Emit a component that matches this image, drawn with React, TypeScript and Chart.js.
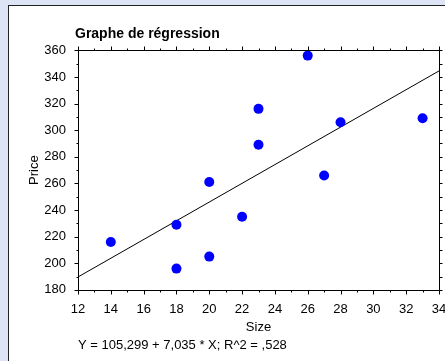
import React, { useEffect, useRef } from 'react';
import { Chart, registerables } from 'chart.js';

Chart.register(...registerables);

// ---- data ----
const sizes = [14, 18, 18, 20, 20, 22, 23, 23, 26, 27, 28, 33];
const prices = [216, 229, 196, 261, 205, 235, 289, 316, 356, 266, 306, 309];
const fitX = [12, 34];
const fitY = [189.7, 344.5];

const xRange = [12, 34];
const xSteps = [2, 1]; // major, minor
const yRange = [180, 360];
const ySteps = [20, 10];

const chartTitle = 'Graphe de régression';
const xTitle = 'Size';
const yTitle = 'Price';
const equation = 'Y = 105,299 + 7,035 * X; R^2 = ,528';

const FONT = "'Liberation Sans', Arial, sans-serif";

const shiftTitle = {
  id: 'shiftTitle',
  afterLayout(chart: any) {
    const t = chart.titleBlock;
    if (t) {
      t.left -= 3;
      t.right -= 3;
    }
  },
};

const frameTicks = {
  id: 'frameTicks',
  afterDraw(chart: any) {
    const { ctx, chartArea: a, scales } = chart;
    const x = scales.x;
    const y = scales.y;
    const L = Math.round(a.left) + 0.5;
    const R = Math.round(a.right) + 0.5;
    const T = Math.round(a.top) + 0.5;
    const B = Math.round(a.bottom) + 0.5;
    ctx.save();
    ctx.strokeStyle = '#000';
    ctx.lineWidth = 1;
    ctx.beginPath();
    ctx.rect(L, T, R - L, B - T);
    for (let v = xRange[0]; v <= xRange[1] + 1e-9; v += xSteps[1]) {
      const len = Math.abs((v - xRange[0]) % xSteps[0]) < 1e-9 ? 4 : 2;
      const px = Math.round(x.getPixelForValue(v)) + 0.5;
      ctx.moveTo(px, B);
      ctx.lineTo(px, B + len);
      ctx.moveTo(px, T);
      ctx.lineTo(px, T - len);
    }
    for (let v = yRange[0]; v <= yRange[1] + 1e-9; v += ySteps[1]) {
      const len = Math.abs((v - yRange[0]) % ySteps[0]) < 1e-9 ? 4 : 2;
      const py = Math.round(y.getPixelForValue(v)) + 0.5;
      ctx.moveTo(L, py);
      ctx.lineTo(L - len, py);
      ctx.moveTo(R, py);
      ctx.lineTo(R + 3, py);
    }
    ctx.stroke();
    ctx.restore();
  },
};

export default function App() {
  const ref = useRef<HTMLCanvasElement>(null);

  useEffect(() => {
    if (!ref.current) return;
    const chart = new Chart(ref.current, {
      type: 'scatter',
      data: {
        datasets: [
          {
            label: 'data',
            data: sizes.map((s, i) => ({ x: s, y: prices[i] })),
            backgroundColor: '#0000ff',
            borderColor: '#0000ff',
            pointRadius: 5,
            pointBorderWidth: 0,
            showLine: false,
            order: 0,
          },
          {
            label: 'fit',
            data: fitX.map((s, i) => ({ x: s, y: fitY[i] })),
            borderColor: '#000',
            backgroundColor: '#000',
            borderWidth: 1,
            pointRadius: 0,
            showLine: true,
            order: 1,
          },
        ],
      },
      options: {
        responsive: false,
        animation: false,
        devicePixelRatio: 1,
        layout: { padding: { left: 0, right: 6, top: 0, bottom: 0 } },
        plugins: {
          legend: { display: false },
          tooltip: { enabled: false },
          title: {
            display: true,
            text: chartTitle,
            align: 'start',
            fullSize: false,
            color: '#000',
            font: { family: FONT, size: 14, weight: 'bold' },
            padding: { top: 25.5, bottom: 8 },
          },
          subtitle: {
            display: true,
            text: equation,
            position: 'bottom',
            align: 'start',
            fullSize: false,
            color: '#000',
            font: { family: FONT, size: 13, weight: 'normal' },
            padding: { top: 0, bottom: 8 },
          },
        },
        scales: {
          x: {
            type: 'linear',
            position: 'bottom',
            min: xRange[0],
            max: xRange[1],
            grid: { display: false, drawTicks: false },
            border: { display: false },
            ticks: {
              stepSize: xSteps[0],
              color: '#000',
              font: { family: FONT, size: 13 },
              padding: 12,
              maxRotation: 0,
            },
            title: {
              display: true,
              text: xTitle,
              color: '#000',
              font: { family: FONT, size: 13 },
              padding: { top: 0, bottom: 2.5 },
            },
            afterFit(scale: any) {
              scale.height = 47.5;
              scale.paddingLeft = 0;
              scale.paddingRight = 0;
            },
          },
          y: {
            type: 'linear',
            position: 'left',
            min: yRange[0],
            max: yRange[1],
            grid: { display: false, drawTicks: false },
            border: { display: false },
            ticks: {
              stepSize: ySteps[0],
              color: '#000',
              font: { family: FONT, size: 13 },
              padding: 12,
            },
            title: {
              display: true,
              text: yTitle,
              color: '#000',
              font: { family: FONT, size: 13 },
              padding: { top: 27, bottom: 0 },
            },
            afterFit(scale: any) {
              scale.width = 78;
            },
          },
        },
      },
      plugins: [frameTicks, shiftTitle],
    } as any);
    return () => chart.destroy();
  }, []);

  return (
    <div
      style={{
        position: 'fixed',
        left: 0,
        top: 0,
        width: 445,
        height: 361,
        overflow: 'hidden',
        background: '#dde4f5',
      }}
    >
      <div
        style={{
          position: 'absolute',
          left: 8,
          top: 5,
          width: 480,
          height: 400,
          background: '#fff',
          border: '1px solid #222',
        }}
      />
      <canvas
        ref={ref}
        width={445}
        height={361}
        style={{ position: 'absolute', left: 0, top: 0, width: 445, height: 361, display: 'block' }}
      />
    </div>
  );
}
